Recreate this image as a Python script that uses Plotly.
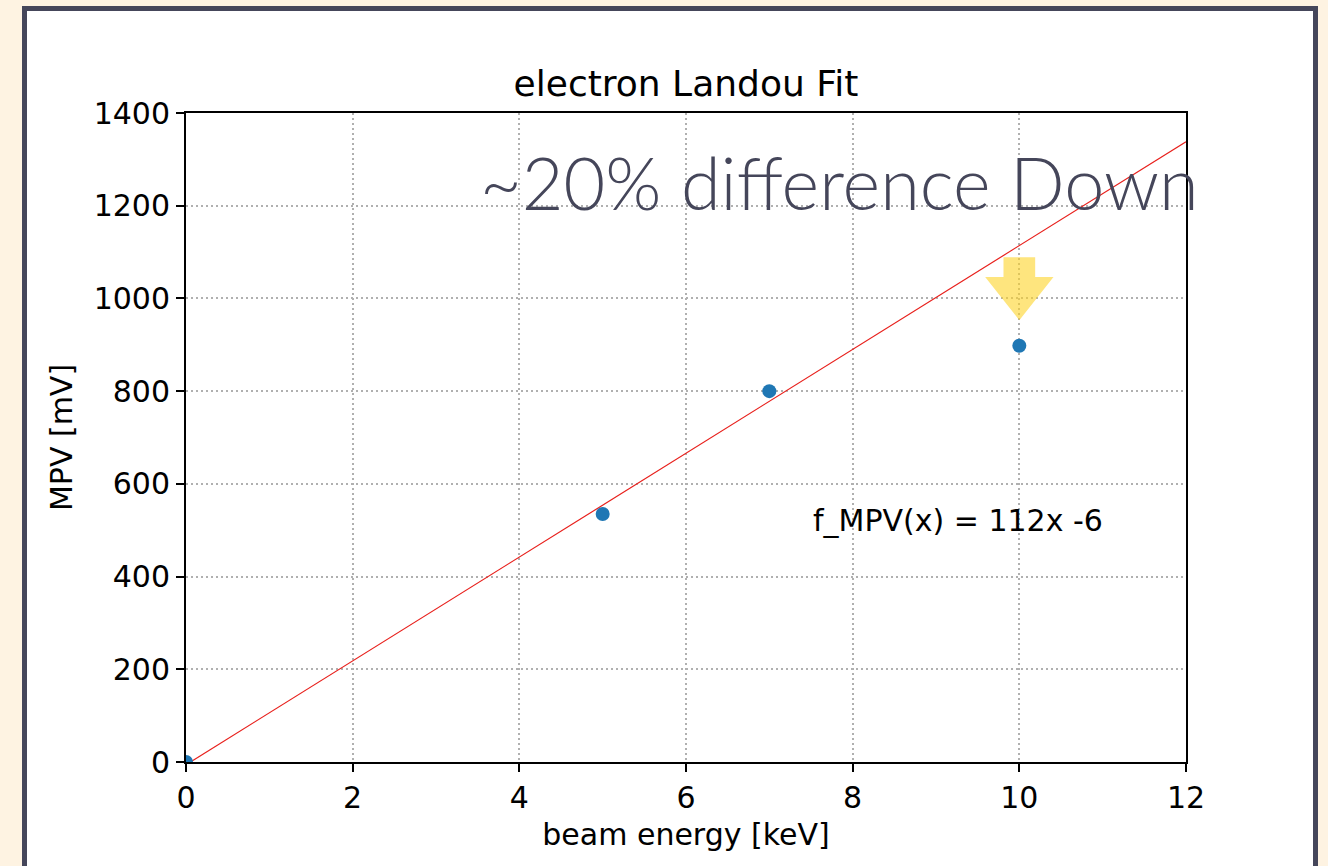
import numpy as np
import plotly.graph_objects as go

# Measured most-probable values vs beam energy
beam_energy = [0, 5, 7, 10]
mpv = [0, 535, 800, 898]

# Linear fit parameters
fit_slope = 112
fit_offset = -6
fit_x = np.array([0, 12])
fit_y = fit_slope * fit_x + fit_offset

x_ticks = [0, 2, 4, 6, 8, 10, 12]
y_ticks = [0, 200, 400, 600, 800, 1000, 1200, 1400]

TICK_FONT = dict(family="DejaVu Sans", size=30, color="black")

fig = go.Figure()

fig.add_trace(go.Scatter(
    x=fit_x, y=fit_y, mode="lines",
    line=dict(color="#e8201c", width=1.2),
    showlegend=False, hoverinfo="skip",
))
fig.add_trace(go.Scatter(
    x=beam_energy, y=mpv, mode="markers",
    marker=dict(color="#1f77b4", size=14),
    cliponaxis=True, showlegend=False,
))

axis_common = dict(
    showgrid=True, gridcolor="#b0b0b0", griddash="2px,3px", gridwidth=1.5,
    showline=True, linecolor="black", linewidth=2, mirror=True,
    ticks="outside", ticklen=8, tickwidth=2, tickcolor="black",
    tickfont=TICK_FONT, zeroline=False,
)

fig.update_xaxes(range=[0, 12], tickvals=x_ticks,
                 title=dict(text="beam energy [keV]", font=TICK_FONT, standoff=10),
                 **axis_common)
fig.update_yaxes(range=[0, 1400], tickvals=y_ticks,
                 title=dict(text="MPV [mV]", font=TICK_FONT, standoff=12),
                 **axis_common)

# Slide frame around the figure
fig.add_shape(type="rect", xref="paper", yref="paper",
              x0=-0.1615, x1=1.1295, y0=-0.2, y1=1.161,
              line=dict(color="#45465a", width=5), fillcolor="white",
              layer="below")

# Downward arrow marking the last point
arrow_x = 10
fig.add_shape(type="path", xref="x", yref="y",
              path=(f"M {arrow_x-0.19},1089 L {arrow_x+0.19},1089 L {arrow_x+0.19},1046 "
                    f"L {arrow_x+0.41},1046 L {arrow_x},953 L {arrow_x-0.41},1046 "
                    f"L {arrow_x-0.19},1046 Z"),
              fillcolor="rgba(253,212,40,0.6)", line=dict(width=0),
              layer="above")

fig.add_annotation(text="f_MPV(x) = 112x -6", x=7.5, y=522, xref="x", yref="y",
                   xanchor="left", yanchor="middle", showarrow=False,
                   font=TICK_FONT)

fig.add_annotation(text="~20% difference Down", x=0.292, y=0.893,
                   xref="paper", yref="paper", xanchor="left", yanchor="middle",
                   showarrow=False,
                   font=dict(family="Lato", size=72, color="#45465a", weight=300))

fig.update_layout(
    width=1328, height=866,
    margin=dict(l=186, r=142, t=113, b=104),
    paper_bgcolor="#fef3e2", plot_bgcolor="white",
    title=dict(text="electron Landou Fit", x=0.5, xref="paper", y=0.904,
               yanchor="middle", font=dict(family="DejaVu Sans", size=36, color="black")),
)

fig.write_html("out.html")
